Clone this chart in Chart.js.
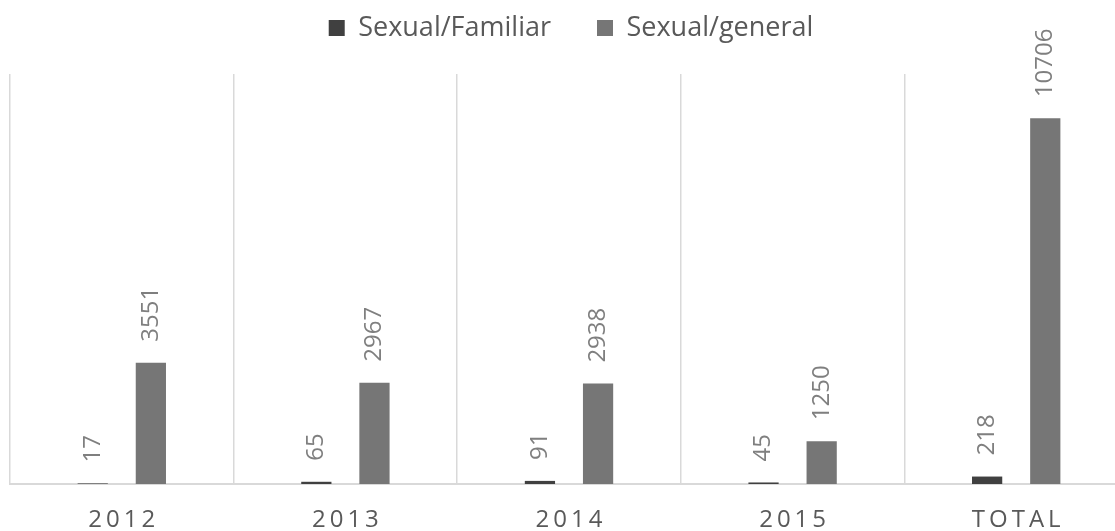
<!DOCTYPE html>
<html>
<head>
<meta charset="utf-8">
<script src="https://cdn.jsdelivr.net/npm/chart.js@4.4.1/dist/chart.umd.min.js"></script>
<style>
  html, body { margin: 0; padding: 0; overflow: hidden; background: #fff; }
  #wrap { width: 1130px; height: 531px; position: relative; }
</style>
</head>
<body>
<div id="wrap"><canvas id="chart"></canvas></div>
<script>
const categories = ['2012', '2013', '2014', '2015', 'TOTAL'];
const seriesNames = ['Sexual/Familiar', 'Sexual/general'];
const familiarValues = [17, 65, 91, 45, 218];
const generalValues = [3551, 2967, 2938, 1250, 10706];
const yMax = 12000;

const FONT = '"Open Sans", "DejaVu Sans", sans-serif';

// rotated value labels above each bar
const valueLabels = {
    id: 'valueLabels',
    afterDatasetsDraw(chart) {
        const ctx = chart.ctx;
        chart.data.datasets.forEach((ds, di) => {
            chart.getDatasetMeta(di).data.forEach((bar, i) => {
                ctx.save();
                ctx.translate(bar.x, bar.y - 21);
                ctx.rotate(-Math.PI / 2);
                ctx.font = '24px ' + FONT;
                ctx.fillStyle = '#7f7f7f';
                ctx.textAlign = 'left';
                ctx.textBaseline = 'middle';
                ctx.fillText(String(ds.data[i]), 0, 0);
                ctx.restore();
            });
        });
    }
};

// category labels with letter spacing (canvas ticks can't do that)
const spacedTicks = {
    id: 'spacedTicks',
    afterDraw(chart) {
        const ctx = chart.ctx;
        const xScale = chart.scales.x;
        ctx.save();
        ctx.font = '24px ' + FONT;
        ctx.fillStyle = '#595959';
        ctx.textAlign = 'center';
        ctx.textBaseline = 'middle';
        ctx.letterSpacing = '4px';
        categories.forEach((label, i) => {
            ctx.fillText(label, xScale.getPixelForValue(i) + 2, 520);
        });
        ctx.restore();
    }
};

// keep the legend compact and put it where the original has it
const legendPlace = {
    id: 'legendPlace',
    beforeLayout(chart) {
        const lg = chart.legend;
        if (lg && !lg._patched) {
            lg._patched = true;
            const origFit = lg.fit;
            lg.fit = function () {
                origFit.call(this);
                this.height = 74;
            };
        }
    },
    beforeDraw(chart) {
        const lg = chart.legend;
        if (!lg) return;
        lg.top = -31.5;
        lg.left = 10 + 2;
        lg.right = 1128 + 2;
    }
};

new Chart(document.getElementById('chart'), {
    type: 'bar',
    data: {
        labels: categories,
        datasets: [
            {
                label: seriesNames[0],
                data: familiarValues,
                backgroundColor: '#404040',
                borderWidth: 0,
                categoryPercentage: 0.52,
                barPercentage: 0.52
            },
            {
                label: seriesNames[1],
                data: generalValues,
                backgroundColor: '#767676',
                borderWidth: 0,
                categoryPercentage: 0.52,
                barPercentage: 0.52
            }
        ]
    },
    options: {
        responsive: true,
        maintainAspectRatio: false,
        animation: false,
        layout: { padding: { top: 0, left: 10, right: 2, bottom: 47 } },
        plugins: {
            legend: {
                position: 'top',
                labels: {
                    color: '#595959',
                    font: { family: FONT, size: 27 },
                    boxWidth: 16,
                    boxHeight: 16,
                    padding: 46
                }
            },
            tooltip: { enabled: false }
        },
        scales: {
            x: {
                grid: { color: '#d9d9d9', lineWidth: 1.5, offset: true, drawTicks: false },
                border: { display: true, color: '#d9d9d9', width: 2 },
                ticks: { display: false }
            },
            y: {
                display: false,
                min: 0,
                max: yMax
            }
        }
    },
    plugins: [valueLabels, spacedTicks, legendPlace]
});
</script>
</body>
</html>
